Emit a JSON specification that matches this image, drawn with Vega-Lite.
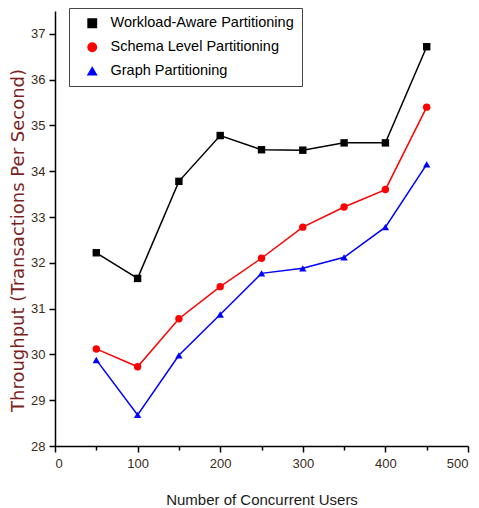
{
  "$schema": "https://vega.github.io/schema/vega-lite/v6.json",
  "width": 413,
  "height": 435,
  "autosize": "none",
  "padding": {"left": 55, "top": 11, "right": 11, "bottom": 62},
  "background": "white",
  "config": {"view": {"stroke": null}, "font": "Liberation Sans"},
  "data": {"values": [
    {"users": 50, "tps": 32.22, "method": "Workload-Aware Partitioning"},
    {"users": 100, "tps": 31.66, "method": "Workload-Aware Partitioning"},
    {"users": 150, "tps": 33.78, "method": "Workload-Aware Partitioning"},
    {"users": 200, "tps": 34.78, "method": "Workload-Aware Partitioning"},
    {"users": 250, "tps": 34.47, "method": "Workload-Aware Partitioning"},
    {"users": 300, "tps": 34.46, "method": "Workload-Aware Partitioning"},
    {"users": 350, "tps": 34.62, "method": "Workload-Aware Partitioning"},
    {"users": 400, "tps": 34.62, "method": "Workload-Aware Partitioning"},
    {"users": 450, "tps": 36.72, "method": "Workload-Aware Partitioning"},
    {"users": 50, "tps": 30.12, "method": "Schema Level Partitioning"},
    {"users": 100, "tps": 29.73, "method": "Schema Level Partitioning"},
    {"users": 150, "tps": 30.78, "method": "Schema Level Partitioning"},
    {"users": 200, "tps": 31.48, "method": "Schema Level Partitioning"},
    {"users": 250, "tps": 32.1, "method": "Schema Level Partitioning"},
    {"users": 300, "tps": 32.78, "method": "Schema Level Partitioning"},
    {"users": 350, "tps": 33.22, "method": "Schema Level Partitioning"},
    {"users": 400, "tps": 33.6, "method": "Schema Level Partitioning"},
    {"users": 450, "tps": 35.4, "method": "Schema Level Partitioning"},
    {"users": 50, "tps": 29.88, "method": "Graph Partitioning"},
    {"users": 100, "tps": 28.68, "method": "Graph Partitioning"},
    {"users": 150, "tps": 29.98, "method": "Graph Partitioning"},
    {"users": 200, "tps": 30.87, "method": "Graph Partitioning"},
    {"users": 250, "tps": 31.77, "method": "Graph Partitioning"},
    {"users": 300, "tps": 31.88, "method": "Graph Partitioning"},
    {"users": 350, "tps": 32.12, "method": "Graph Partitioning"},
    {"users": 400, "tps": 32.78, "method": "Graph Partitioning"},
    {"users": 450, "tps": 34.15, "method": "Graph Partitioning"}
  ]},
  "mark": {"type": "line", "point": {"filled": true, "size": 55, "opacity": 1}, "strokeWidth": 1.5},
  "encoding": {
    "x": {
      "field": "users", "type": "quantitative",
      "scale": {"domain": [0, 500], "nice": false},
      "axis": {
        "title": "Number of Concurrent Users",
        "values": [0, 50, 100, 150, 200, 250, 300, 350, 400, 450, 500],
        "format": "d",
        "labelExpr": "datum.value % 100 === 0 ? datum.label : ''",
        "grid": false, "domainColor": "black", "domainWidth": 1.5,
        "tickColor": "black", "tickWidth": 1.5,
        "tickSize": {"condition": {"test": "datum.value % 100 === 0", "value": 6}, "value": 4},
        "labelFontSize": 13, "labelColor": "#3a2a1a", "labelPadding": 5,
        "titleFontSize": 15, "titleFontWeight": "normal", "titleColor": "#1a1a1a", "titlePadding": 22
      }
    },
    "y": {
      "field": "tps", "type": "quantitative",
      "scale": {"domain": [28, 37.5], "nice": false, "zero": false},
      "axis": {
        "title": "Throughput (Transactions Per Second)",
        "values": [28, 28.5, 29, 29.5, 30, 30.5, 31, 31.5, 32, 32.5, 33, 33.5, 34, 34.5, 35, 35.5, 36, 36.5, 37, 37.5],
        "format": "d",
        "labelExpr": "datum.value % 1 === 0 ? datum.label : ''",
        "grid": false, "domainColor": "black", "domainWidth": 1.5,
        "tickColor": "black", "tickWidth": 1.5,
        "tickSize": {"condition": {"test": "datum.value % 1 === 0", "value": 6}, "value": 3},
        "labelFontSize": 13, "labelColor": "#3a2a1a", "labelPadding": 4,
        "titleFont": "DejaVu Sans", "titleFontSize": 18, "titleFontWeight": "normal", "titleColor": "#7b1f1f", "titlePadding": 3,
        "titleY": 229
      }
    },
    "color": {
      "field": "method", "type": "nominal",
      "scale": {
        "domain": ["Workload-Aware Partitioning", "Schema Level Partitioning", "Graph Partitioning"],
        "range": ["black", "red", "blue"]
      },
      "legend": {
        "title": null, "orient": "none", "legendX": 14, "legendY": -3,
        "strokeColor": "#444", "fillColor": "white", "padding": 8,
        "labelFontSize": 14.5, "labelColor": "black", "symbolSize": 70,
        "symbolOffset": 8, "labelOffset": 11, "rowPadding": 8, "labelLimit": 300
      }
    },
    "shape": {
      "field": "method", "type": "nominal",
      "scale": {
        "domain": ["Workload-Aware Partitioning", "Schema Level Partitioning", "Graph Partitioning"],
        "range": ["square", "circle", "triangle-up"]
      },
      "legend": null
    }
  }
}
